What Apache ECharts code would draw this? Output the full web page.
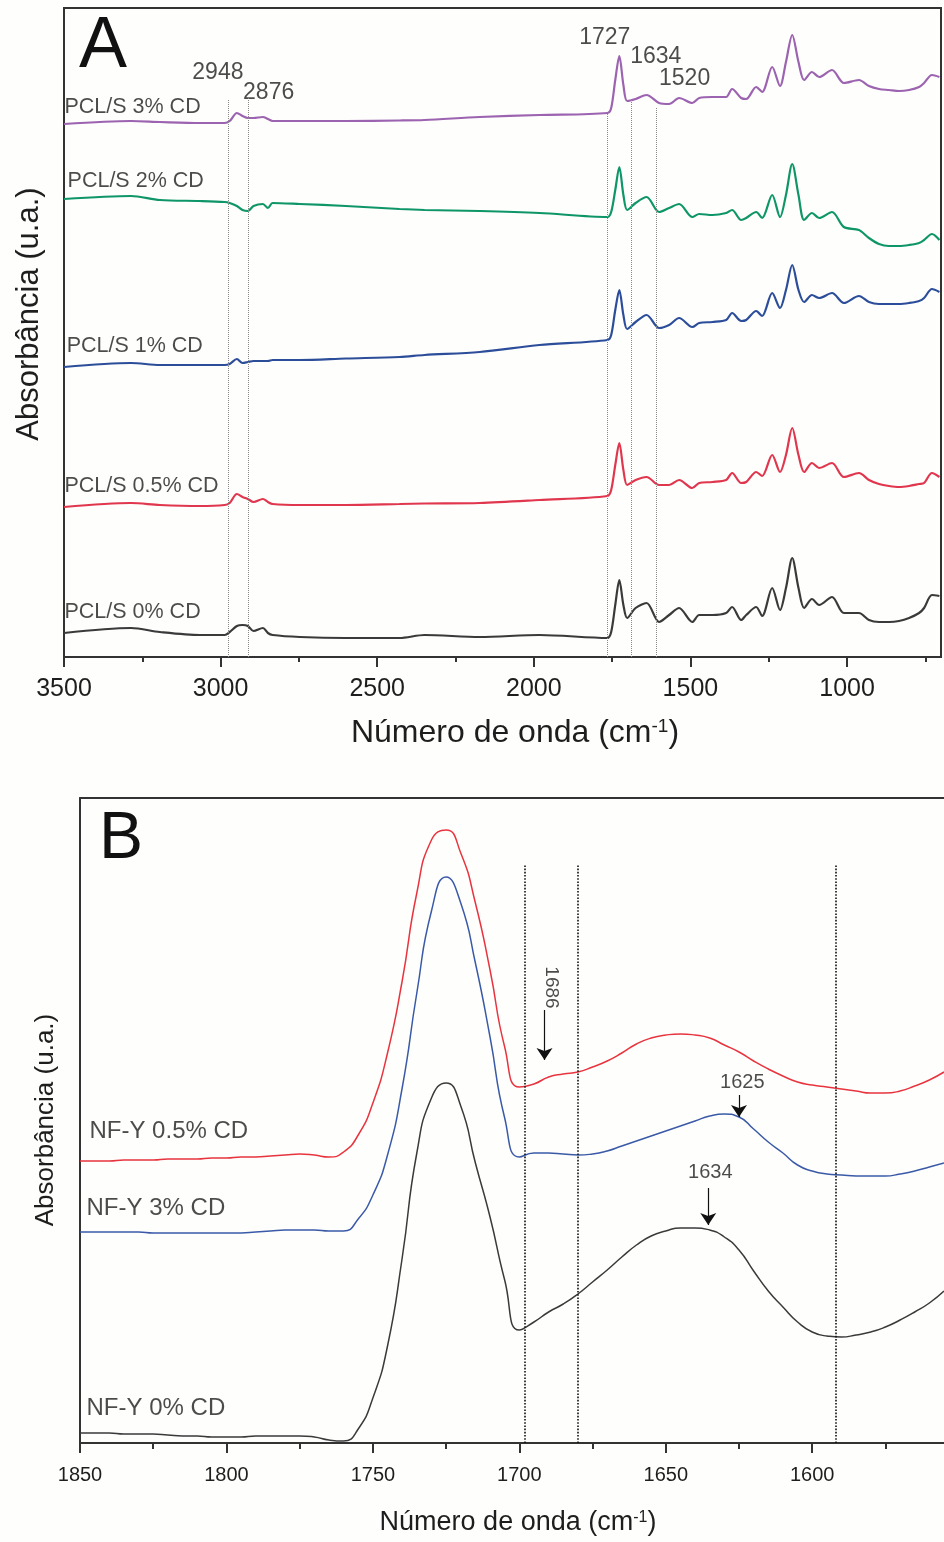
<!DOCTYPE html>
<html><head><meta charset="utf-8">
<script src="https://cdn.jsdelivr.net/npm/echarts@6/dist/echarts.min.js"></script>
<style>html,body{margin:0;padding:0;background:#fefefc}#c{width:944px;height:1542px}</style>
</head><body><div id="c"></div>
<script>
const FONT = "'Liberation Sans', Arial, Helvetica, sans-serif";

// ---------- Panel A data (wavenumber cm-1, absorbance in arbitrary offset units) ----------
const wnA = [3500,3286,3194,3066,2987,2971,2948,2930,2913,2895,2865,2849,2834,2747,2600,2429,2349,2173,1982,1765,1753,1740,1727,1714,1702,1675,1640,1600,1568,1536,1494,1472,1430,1386,1367,1338,1322,1290,1271,1239,1214,1195,1175,1155,1137,1112,1089,1048,1010,962,930,898,866,834,802,770,754,729,705];
const pcl3 = [533,536,535,534,534,536,544,541,539,539,540,538,536,536,536,536.5,537,540,542,544,549,577,601,572,556,558,562,554,553,559,554,559,560,560,568,559,558,570,565,590,571,595,622,595,577,585,580,587,574,577,571,568,567,566,567,570,574,582,580];
const pcl2 = [458,461,457,456,455,454,451,447,446,451,453,449,454,453,451,448,447,446,444,440,445,467,490,462,447,454,460,445,449,453,440,443,442,444,447,437,439,445,439,462,440,462,493,462,437,444,439,445,430,427,419,413,411,411,412,414,417,423,417];
const pcl1 = [290,294,292,292,292,293,298,294,295,296,296,296,297,297,298.5,300,302,305,312,317,322,347,367,342,328,335,342,329,332,339,330,334,335,337,344,336,337,346,341,364,349,367,392,367,355,362,359,364,354,361,355,353,353,353,354,356,359,368,365];
const pcl05 = [150,154,152,151,152,154,163,160,158,155,158,155,153,152,152,153,153.5,154,157,161,167,192,214,187,172,177,180,172,172,177,169,174,175,177,184,174,175,185,181,202,185,202,229,202,185,194,189,194,180,184,177,173,171,170,171,173,174,184,180];
const pcl0 = [24,29,25,22,22,25,31,32,31,26,29,24,22,20,19,19,22,20,22,19,25,52,77,52,39,49,54,35,42,49,35,42,42,44,50,37,42,50,41,69,47,69,99,69,49,58,52,60,44,44,37,35,35,36,39,44,49,62,61];
const namesA = ['PCL/S 0% CD','PCL/S 0.5% CD','PCL/S 1% CD','PCL/S 2% CD','PCL/S 3% CD'];
const ticksA = [1000,1500,2000,2500,3000,3500];
const minorTicksA = [750,1250,1750,2250,2750,3250];
const peakTextA = ['2948','2876','1727','1634','1520'];
const refLinesA = [2977,2913,1765,1689,1609];
const refTopsA = [557,559,544,557,550];

// ---------- Panel B data ----------
const wnB = [1850,1845,1840,1835,1830,1825,1820,1815,1810,1805,1800,1795,1790,1785,1780,1775,1770,1765,1760,1755,1750,1745,1740,1735,1730,1725,1720,1715,1710,1705,1700,1695,1690,1685,1680,1675,1670,1665,1660,1655,1650,1645,1640,1635,1630,1625,1620,1615,1610,1605,1600,1595,1590,1585,1580,1575,1570,1565,1560,1555];
const nfy05 = [282,282,282,283,283,283,284,284,284,285,285,286,286,287,288,289,288,286,291,308,340,390,462,550,603,613,590,540,473,396,356,359,366,369,371,376,382,390,399,405,408,409,408,405,398,391,382,374,367,361,358,356,354,352,350,350,352,357,363,371];
const nfy3 = [211,211,211,211,211,210,210,210,210,210,210,210,211,212,213,213,213,212,212,224,248,288,355,450,532,566,540,480,406,325,286,290,290,289,288,289,292,297,302,307,312,317,322,327,329,326,314,301,290,278,272,269,268,267,267,267,269,272,276,280];
const nfy0 = [10,10,10,9,9,9,8,7,7,6,6,6,7,7,7,7,6,3,2,14,45,97,185,290,345,360,337,280,226,163,113,121,131,139,149,161,173,186,198,207,212,215,215,213,206,193,172,152,136,121,111,107,106,108,111,116,123,131,140,152];
const namesB = ['NF-Y 0.5% CD','NF-Y 3% CD','NF-Y 0% CD'];
const ticksB = [1600,1650,1700,1750,1800,1850];
const minorTicksB = [1575,1625,1675,1725,1775,1825];
const refLinesB = [1698,1680,1592];
const peakTextB = ['1686','1625','1634'];

// ---------- chart ----------
const pair = (xs, ys) => xs.map((x, i) => [x, ys[i]]);
const axisCol = '#333';
const txtCol = '#1e1e1e';

function lineSeries(name, data, color, xi, yi, w, sm) {
  return {name, type:'line', xAxisIndex:xi, yAxisIndex:yi, data, showSymbol:false, smooth:sm,
    lineStyle:{color, width:w}, itemStyle:{color}, silent:true, z:3};
}
function textPoint(x, y, text, align, size, extra) {
  return Object.assign({value:[x, y, text], label:{align, fontSize:size}}, extra || {});
}

const colorsA = ['#3a3a3a','#e0364e','#2c4e9a','#0f9668','#9c63b0'];
const seriesA = [pcl0, pcl05, pcl1, pcl2, pcl3].map((ys, i) => lineSeries(namesA[i], pair(wnA, ys), colorsA[i], 0, 0, 2.2, 0.3));

const labelAnchorsA = [[3497,44],[3497,170],[3490,310],[3487,475],[3497,549]];
const peakAnchorsA = [[3007,584],[2845,564],[1772,619],[1609,600],[1517,578]];

const textA = {
  type:'scatter', xAxisIndex:0, yAxisIndex:0, symbolSize:1, silent:true,
  itemStyle:{color:'rgba(0,0,0,0)'},
  label:{show:true, position:[0,0], verticalAlign:'middle', color:txtCol, fontFamily:FONT, formatter:p => p.value[2]},
  data: namesA.map((n, i) => textPoint(labelAnchorsA[i][0], labelAnchorsA[i][1], n, 'left', 21.5))
    .concat(peakTextA.map((t, i) => textPoint(peakAnchorsA[i][0], peakAnchorsA[i][1], t, 'center', 23))),
  markLine:{silent:true, symbol:'none', label:{show:false},
    lineStyle:{type:'dotted', color:'#8a8a8a', width:1},
    data: refLinesA.map((x, i) => [{coord:[x, 0]}, {coord:[x, refTopsA[i]]}])}
};

const colorsB = ['#e8343e','#3a5aa8','#3a3a3a'];
const seriesB = [nfy05, nfy3, nfy0].map((ys, i) => lineSeries(namesB[i], pair(wnB, ys), colorsB[i], 2, 1, 1.5, 0.55));

const labelAnchorsB = [[1846.6,311],[1847.6,234],[1847.6,34]];
const textB = {
  type:'scatter', xAxisIndex:2, yAxisIndex:1, symbolSize:1, silent:true,
  itemStyle:{color:'rgba(0,0,0,0)'},
  label:{show:true, position:[0,0], verticalAlign:'middle', color:txtCol, fontFamily:FONT, formatter:p => p.value[2]},
  data: namesB.map((n, i) => textPoint(labelAnchorsB[i][0], labelAnchorsB[i][1], n, 'left', 24))
    .concat([
      textPoint(1689, 455, peakTextB[0], 'center', 19, {label:{align:'center', fontSize:19, rotate:-90}}),
      textPoint(1623.7, 360, peakTextB[1], 'center', 20),
      textPoint(1634.6, 270, peakTextB[2], 'center', 20)
    ]),
  markLine:{silent:true, symbol:'none', label:{show:false},
    lineStyle:{type:'dotted', color:'#111', width:1.6},
    data: refLinesB.map(x => [{coord:[x, 0]}, {coord:[x, 578]}])}
};
const arrowsB = {
  type:'scatter', xAxisIndex:2, yAxisIndex:1, symbolSize:1, silent:true, data:[[1691.4, 433]],
  itemStyle:{color:'rgba(0,0,0,0)'},
  markLine:{silent:true, symbol:['none','arrow'], symbolSize:12, label:{show:false},
    lineStyle:{type:'solid', color:'#111', width:1.2},
    data:[
      [{coord:[1691.4, 433]}, {coord:[1691.4, 383]}],
      [{coord:[1625, 348]}, {coord:[1625, 326]}],
      [{coord:[1635.5, 255]}, {coord:[1635.5, 218]}]
    ]}
};

const tickStyle = {color:axisCol, width:2};
const plain = v => String(v);
const option = {
  backgroundColor:'#fefefc',
  animation:false,
  grid:[
    {left:64, top:8, width:877, height:649, show:true, borderColor:axisCol, borderWidth:2, backgroundColor:'transparent'},
    {left:80, top:798, right:0, height:645, show:false}
  ],
  xAxis:[
    {gridIndex:0, type:'value', min:700, max:3500, inverse:true, position:'bottom',
      axisLine:{show:true, onZero:false, lineStyle:tickStyle},
      axisTick:{show:true, length:10, customValues:ticksA, lineStyle:tickStyle},
      axisLabel:{customValues:ticksA, formatter:plain, fontSize:25, color:txtCol, fontFamily:FONT, margin:20},
      splitLine:{show:false}},
    {gridIndex:0, type:'value', min:700, max:3500, inverse:true, position:'bottom',
      axisLine:{show:false}, axisTick:{show:true, length:5, customValues:minorTicksA, lineStyle:tickStyle},
      axisLabel:{show:false}, splitLine:{show:false}},
    {gridIndex:1, type:'value', min:1555, max:1850, inverse:true, position:'bottom',
      axisLine:{show:true, onZero:false, lineStyle:tickStyle},
      axisTick:{show:true, length:10, customValues:ticksB, lineStyle:tickStyle},
      axisLabel:{customValues:ticksB, formatter:plain, fontSize:20, color:txtCol, fontFamily:FONT, margin:22},
      splitLine:{show:false}},
    {gridIndex:1, type:'value', min:1555, max:1850, inverse:true, position:'bottom',
      axisLine:{show:false}, axisTick:{show:true, length:6, customValues:minorTicksB, lineStyle:tickStyle},
      axisLabel:{show:false}, splitLine:{show:false}},
    {gridIndex:1, type:'value', min:1555, max:1850, inverse:true, position:'top',
      axisLine:{show:true, onZero:false, lineStyle:tickStyle}, axisTick:{show:false},
      axisLabel:{show:false}, splitLine:{show:false}}
  ],
  yAxis:[
    {gridIndex:0, type:'value', min:0, max:649, axisLine:{show:false}, axisTick:{show:false}, axisLabel:{show:false}, splitLine:{show:false}},
    {gridIndex:1, type:'value', min:0, max:645, position:'left', axisLine:{show:true, onZero:false, lineStyle:tickStyle}, axisTick:{show:false}, axisLabel:{show:false}, splitLine:{show:false}}
  ],
  graphic:[
    {type:'text', x:103, y:47, style:{text:'A', fontSize:72, fontFamily:FONT, fill:'#111', align:'center', verticalAlign:'middle'}},
    {type:'text', x:121, y:840, style:{text:'B', fontSize:66, fontFamily:FONT, fill:'#111', align:'center', verticalAlign:'middle'}},
    {type:'text', x:515, y:733, style:{text:'{a|Número de onda (cm}{s|-1}{a|)}', align:'center', verticalAlign:'middle',
      rich:{a:{fontSize:32, fontFamily:FONT, fill:txtCol}, s:{fontSize:19, fontFamily:FONT, fill:txtCol, verticalAlign:'top'}}}},
    {type:'text', x:29, y:314, rotation:Math.PI/2, style:{text:'Absorbância (u.a.)', fontSize:31, fontFamily:FONT, fill:txtCol, align:'center', verticalAlign:'middle'}},
    {type:'text', x:518, y:1523, style:{text:'{a|Número de onda (cm}{s|-1}{a|)}', align:'center', verticalAlign:'middle',
      rich:{a:{fontSize:27, fontFamily:FONT, fill:txtCol}, s:{fontSize:16, fontFamily:FONT, fill:txtCol, verticalAlign:'top'}}}},
    {type:'text', x:46, y:1120, rotation:Math.PI/2, style:{text:'Absorbância (u.a.)', fontSize:26, fontFamily:FONT, fill:txtCol, align:'center', verticalAlign:'middle'}}
  ],
  series: seriesA.concat([textA]).concat(seriesB).concat([textB, arrowsB])
};
const chart = echarts.init(document.getElementById('c'), null, {renderer:'canvas'});
chart.setOption(option);
</script></body></html>
